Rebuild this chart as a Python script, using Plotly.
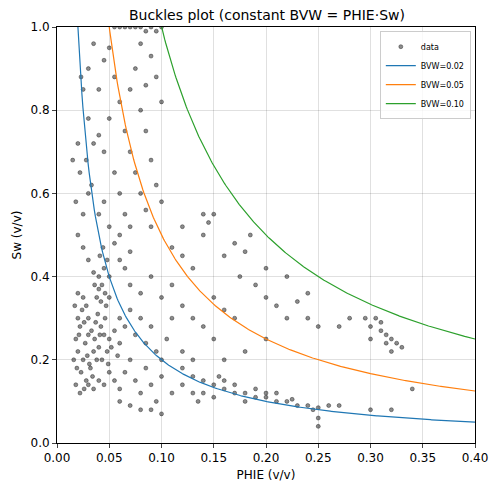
import plotly.graph_objects as go
import numpy as np

pts = [(0.018,0.25),(0.02,0.22),(0.022,0.28),(0.025,0.2),(0.027,0.24),(0.03,0.26),(0.032,0.18),(0.035,0.22),(0.02,0.3),(0.023,0.17),(0.028,0.15),(0.03,0.3),(0.033,0.27),(0.036,0.25),(0.038,0.2),(0.04,0.23),(0.042,0.28),(0.045,0.26),(0.048,0.22),(0.05,0.25),(0.016,0.2),(0.019,0.18),(0.021,0.26),(0.024,0.32),(0.026,0.29),(0.029,0.21),(0.031,0.19),(0.034,0.16),(0.037,0.29),(0.039,0.31),(0.041,0.26),(0.043,0.2),(0.046,0.3),(0.049,0.19),(0.052,0.23),(0.055,0.27),(0.058,0.21),(0.06,0.24),(0.018,0.14),(0.022,0.12),(0.026,0.13),(0.03,0.14),(0.035,0.13),(0.04,0.15),(0.045,0.14),(0.05,0.17),(0.017,0.33),(0.02,0.36),(0.025,0.35),(0.028,0.33),
(0.038,0.35),(0.04,0.37),(0.042,0.34),(0.04,0.4),(0.043,0.38),(0.045,0.42),(0.046,0.36),(0.048,0.44),(0.05,0.4),(0.044,0.47),(0.041,0.45),(0.036,0.38),(0.035,0.41),(0.047,0.33),(0.05,0.35),
(0.02,0.5),(0.025,0.55),(0.03,0.6),(0.018,0.58),(0.022,0.65),(0.028,0.68),(0.033,0.62),(0.04,0.55),(0.045,0.58),(0.05,0.52),(0.055,0.48),(0.06,0.5),(0.035,0.72),(0.04,0.74),(0.045,0.7),(0.03,0.78),(0.05,0.78),(0.055,0.65),(0.06,0.6),(0.065,0.55),(0.07,0.52),(0.025,0.85),(0.03,0.9),(0.04,0.85),(0.045,0.92),(0.05,0.95),(0.035,0.96),(0.055,0.88),(0.06,0.82),(0.065,0.75),(0.07,0.7),(0.075,0.65),(0.08,0.6),(0.085,0.56),(0.09,0.52),(0.07,0.85),(0.075,0.9),(0.08,0.8),(0.085,0.75),(0.09,0.68),(0.095,0.62),(0.1,0.58),(0.023,0.88),(0.015,0.68),(0.02,0.72),(0.025,0.47),(0.03,0.44),(0.06,0.44),(0.065,0.42),(0.07,0.46),
(0.055,1.0),(0.06,1.0),(0.065,1.0),(0.07,1.0),(0.075,1.0),(0.08,1.0),(0.085,0.99),(0.09,1.0),(0.095,0.99),(0.1,1.0),(0.08,0.96),(0.09,0.93),(0.095,0.88),(0.1,0.82),(0.085,0.86),
(0.055,0.15),(0.06,0.13),(0.065,0.17),(0.07,0.2),(0.075,0.15),(0.08,0.12),(0.085,0.18),(0.09,0.14),(0.095,0.1),(0.1,0.16),(0.06,0.3),(0.065,0.28),(0.07,0.32),(0.075,0.26),(0.08,0.3),(0.085,0.24),(0.09,0.28),(0.095,0.22),(0.1,0.2),(0.105,0.25),(0.11,0.3),(0.07,0.38),(0.08,0.36),(0.09,0.4),(0.1,0.35),(0.11,0.38),(0.12,0.33),(0.06,0.1),(0.07,0.09),(0.08,0.08),(0.09,0.08),(0.1,0.07),(0.11,0.12),(0.12,0.14),(0.13,0.12),
(0.12,0.45),(0.13,0.42),(0.14,0.5),(0.145,0.53),(0.15,0.55),(0.14,0.55),(0.13,0.3),(0.14,0.28),(0.15,0.35),(0.16,0.32),(0.17,0.3),(0.16,0.45),(0.17,0.48),(0.18,0.46),(0.175,0.4),(0.19,0.38),(0.2,0.35),(0.21,0.33),(0.22,0.3),(0.23,0.34),(0.24,0.3),(0.25,0.28),(0.2,0.25),(0.18,0.22),(0.16,0.2),(0.15,0.25),(0.12,0.22),(0.13,0.2),(0.22,0.4),(0.2,0.42),(0.12,0.52),(0.11,0.47),(0.185,0.5),(0.24,0.36),(0.27,0.28),(0.28,0.3),
(0.12,0.18),(0.13,0.16),(0.14,0.15),(0.15,0.14),(0.16,0.13),(0.17,0.12),(0.18,0.12),(0.19,0.11),(0.2,0.11),(0.21,0.1),(0.22,0.1),(0.23,0.09),(0.24,0.09),(0.25,0.085),(0.26,0.09),(0.14,0.12),(0.15,0.11),(0.16,0.15),(0.17,0.14),(0.18,0.1),(0.19,0.13),(0.2,0.12),(0.21,0.12),(0.225,0.105),(0.245,0.08),(0.25,0.06),(0.25,0.04),(0.27,0.09),(0.3,0.08),(0.32,0.08),(0.34,0.13),(0.135,0.1),(0.155,0.16),
(0.3,0.28),(0.305,0.3),(0.31,0.27),(0.315,0.26),(0.32,0.25),(0.325,0.24),(0.33,0.23),(0.31,0.29),(0.3,0.25),(0.32,0.22),(0.295,0.3),(0.315,0.24)]
phie = [p[0] for p in pts]
sw = [p[1] for p in pts]

bvw_values = [0.02, 0.05, 0.10]
bvw_colors = ["#1f77b4", "#ff7f0e", "#2ca02c"]

fig = go.Figure()
fig.add_trace(go.Scatter(x=phie, y=sw, mode="markers", name="data",
    marker=dict(size=4, color="rgba(0,0,0,0.45)", line=dict(width=0.6, color="rgba(0,0,0,0.6)"))))
xc = np.linspace(0.005, 0.4, 400)
for b, c in zip(bvw_values, bvw_colors):
    fig.add_trace(go.Scatter(x=xc, y=b / xc, mode="lines", name=f"BVW={b:.2f}", line=dict(color=c, width=1.2)))

ax = dict(showline=True, linecolor="black", linewidth=1, mirror=True, ticks="outside",
          ticklen=4, gridcolor="rgba(0,0,0,0.12)", zeroline=False, tickfont=dict(size=12, color="black"),
          automargin=False)
fig.update_layout(width=498, height=492, margin=dict(l=49, r=31, t=19, b=57, autoexpand=False),
    plot_bgcolor="white", paper_bgcolor="white", font=dict(family="DejaVu Sans", color="black"),
    title=dict(text="Buckles plot (constant BVW = PHIE·Sw)", x=0.52, xanchor="center", y=0.995, yanchor="top", font=dict(size=14)),
    xaxis=dict(ax, range=[0, 0.4], dtick=0.05, tickformat=".2f", title=dict(text="PHIE (v/v)", font=dict(size=12), standoff=6)),
    yaxis=dict(ax, range=[0, 1.0], dtick=0.2, tickformat=".1f", title=dict(text="Sw (v/v)", font=dict(size=12), standoff=6)),
    legend=dict(x=0.99, y=0.99, xanchor="right", yanchor="top", bgcolor="rgba(255,255,255,0.8)",
                bordercolor="#ccc", borderwidth=1, font=dict(size=8), tracegroupgap=0, itemwidth=30),
    showlegend=True)
fig.write_html("out.html")
